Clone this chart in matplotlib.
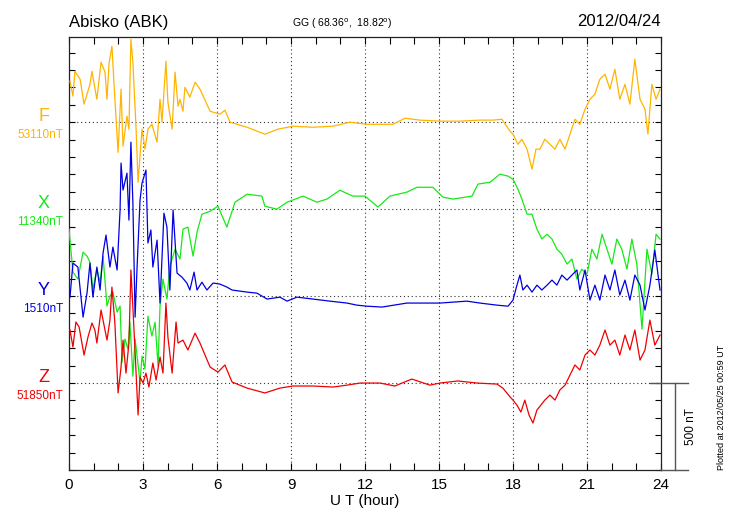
import matplotlib
matplotlib.use('Agg')
import matplotlib.pyplot as plt
from matplotlib.ticker import MultipleLocator, NullFormatter

plt.rcParams['font.family'] = ['Liberation Sans', 'DejaVu Sans']

station = 'Abisko (ABK)'
coords = 'GG ( 68.36$^{\\rm o}$,  18.82$^{\\rm o}$)'
date = '2012/04/24'
plotted = 'Plotted at 2012/05/25 00:59 UT'

# baseline values (nT) for each component
names = ['F', 'X', 'Y', 'Z']
base_labels = ['53110nT', '11340nT', '1510nT', '51850nT']
colors = ['#FFB400', '#18E818', '#0000E0', '#F00000']
offsets = [1500, 1000, 500, 0]   # vertical position of each trace on the panel

# F: hours and deviation from 53110 nT
f_hours = [0.04, 0.16, 0.24, 0.45, 0.61, 0.85, 0.93, 1.13, 1.30, 1.46, 1.54, 1.62, 1.74, 1.86,
           1.99, 2.11, 2.19, 2.35, 2.43, 2.51, 2.59, 2.72, 2.80, 2.96, 3.08, 3.20, 3.36, 3.57,
           3.69, 3.77, 3.93, 4.01, 4.18, 4.30, 4.42, 4.50, 4.62, 4.70, 4.90, 5.11, 5.31, 5.72,
           6.12, 6.32, 6.53, 7.22, 7.94, 8.47, 9.08, 9.89, 10.70, 11.39, 12.08, 13.13, 13.62,
           14.23, 15.04, 15.85, 16.66, 17.19, 17.55, 17.88, 18.00, 18.20, 18.36, 18.57, 18.77,
           18.93, 19.09, 19.29, 19.50, 19.70, 19.90, 20.11, 20.31, 20.51, 20.71, 20.92, 21.12,
           21.32, 21.52, 21.73, 21.93, 22.13, 22.33, 22.54, 22.74, 22.94, 23.15, 23.35, 23.47,
           23.63, 23.80, 23.96]
f_nt = [236, 150, 293, 247, 104, 218, 293, 132, 345, 288, 132, 334, 437, 132,
        -173, 190, -138, 35, -40, 477, 345, -40, -345, -40, -155, -40, -12, -115,
        132, 0, 351, 115, -40, 288, 92, 132, 63, 201, 144, 230, 190, 63,
        46, 69, 0, -29, -69, -40, -23, -29, -23, 0, -12, -12, 23,
        12, 6, 6, 12, 12, 17, -52, -69, -127, -98, -155, -270,
        -155, -155, -98, -127, -155, -98, -155, -69, 17, -12, 75, 132,
        161, 247, 276, 190, 305, 132, 218, 104, 362, 132, 75, -69,
        218, 132, 190]

# X: deviation from 11340 nT
x_hours = [0.00, 0.16, 0.36, 0.57, 0.73, 0.85, 0.97, 1.13, 1.26, 1.38, 1.54, 1.66, 1.78, 1.95,
           2.07, 2.15, 2.27, 2.39, 2.47, 2.59, 2.68, 2.76, 2.88, 2.96, 3.08, 3.20, 3.36, 3.49,
           3.61, 3.69, 3.81, 3.97, 4.09, 4.30, 4.50, 4.62, 4.82, 5.03, 5.19, 5.39, 5.72, 6.04,
           6.40, 6.73, 7.22, 7.82, 7.94, 8.43, 8.84, 9.49, 10.05, 10.46, 10.98, 11.51, 12.00,
           12.53, 13.01, 13.70, 14.11, 14.75, 15.16, 15.57, 16.34, 16.58, 17.07, 17.47, 17.80,
           18.00, 18.20, 18.36, 18.57, 18.77, 18.97, 19.17, 19.38, 19.58, 19.78, 19.98, 20.19,
           20.39, 20.59, 20.79, 21.00, 21.20, 21.40, 21.61, 21.81, 22.01, 22.21, 22.41, 22.62,
           22.82, 23.02, 23.23, 23.43, 23.63, 23.80, 23.96]
x_nt = [-115, -362, -402, -247, -270, -305, -460, -345, -420, -270, -557, -500, -477, -592,
        -557, -880, -747, -805, -650, -960, -747, -845, -995, -845, -920, -615, -730, -650,
        -903, -557, -402, -517, -328, -230, -287, -115, -103, -270, -132, -29, -12, 17,
        -103, 40, 86, 75, 17, 0, 40, 75, 40, 58, 109, 75, 75,
        12, 75, 98, 126, 126, 69, 58, 75, 144, 155, 201, 190,
        172, 115, 58, -29, -29, -115, -172, -144, -172, -230, -259, -316,
        -287, -402, -345, -374, -230, -287, -144, -230, -316, -172, -230, -345,
        -172, -316, -690, -230, -374, -144, -172]

# Y: deviation from 1510 nT
y_hours = [0.04, 0.16, 0.36, 0.57, 0.73, 0.85, 0.97, 1.13, 1.26, 1.38, 1.50, 1.66, 1.78, 1.95,
           2.07, 2.11, 2.19, 2.35, 2.43, 2.51, 2.59, 2.68, 2.76, 2.88, 2.96, 3.12, 3.20, 3.32,
           3.40, 3.57, 3.69, 3.85, 3.97, 4.09, 4.22, 4.38, 4.58, 4.78, 4.90, 5.07, 5.19, 5.39,
           5.59, 5.84, 6.12, 6.40, 6.61, 7.22, 7.62, 8.03, 8.55, 8.84, 9.24, 9.89, 10.58,
           11.27, 11.67, 12.08, 12.69, 13.70, 15.04, 16.13, 16.66, 17.35, 17.80, 18.00, 18.16,
           18.28, 18.40, 18.57, 18.77, 18.97, 19.17, 19.38, 19.58, 19.78, 19.98, 20.19, 20.39,
           20.59, 20.71, 20.92, 21.12, 21.32, 21.52, 21.73, 21.93, 22.13, 22.33, 22.54, 22.74,
           22.94, 23.15, 23.35, 23.55, 23.75, 23.96]
y_nt = [-6, 190, 167, -121, 17, 190, -6, 167, 35, 247, 351, 167, 282, 150,
        495, 765, 610, 707, 437, 885, 535, -121, 167, 552, 650, 725, 305, 380,
        167, 322, -40, 477, 397, 35, 495, 132, 109, 75, 35, 138, 35, 80,
        35, 75, 69, 52, 35, 23, 17, -17, -6, -29, -6, -17, -29,
        -40, -52, -58, -63, -40, -40, -29, -40, -52, -58, -23, 63,
        121, 35, 63, 23, 63, 35, 63, 92, 63, 121, 92, 121,
        150, 35, 150, -23, 63, -23, 121, 35, 150, 6, 92, -23,
        121, 63, -80, 63, 265, 35]

# Z: deviation from 51850 nT
z_hours = [0.04, 0.16, 0.28, 0.41, 0.61, 0.77, 0.93, 1.05, 1.13, 1.30, 1.38, 1.54, 1.66, 1.74,
           1.86, 1.99, 2.11, 2.19, 2.31, 2.43, 2.51, 2.59, 2.72, 2.80, 2.88, 3.00, 3.12, 3.24,
           3.40, 3.53, 3.69, 3.81, 3.93, 4.01, 4.18, 4.34, 4.42, 4.62, 4.82, 5.11, 5.31, 5.72,
           6.04, 6.32, 6.61, 7.22, 7.94, 8.55, 9.08, 9.89, 10.70, 11.27, 11.80, 12.61, 13.21,
           13.90, 14.63, 15.04, 15.77, 16.54, 17.35, 17.59, 17.88, 18.00, 18.16, 18.32, 18.48,
           18.65, 18.81, 18.97, 19.13, 19.29, 19.50, 19.70, 19.90, 20.11, 20.31, 20.51, 20.71,
           20.92, 21.12, 21.32, 21.52, 21.73, 21.93, 22.13, 22.33, 22.54, 22.74, 22.94, 23.15,
           23.35, 23.55, 23.75, 23.96]
z_nt = [305, 207, 351, 322, 161, 265, 345, 305, 230, 420, 362, 247, 362, 552,
        345, -57, 92, 247, 57, 230, 650, 437, 57, -184, 35, 0, 57, -23,
        115, 17, 150, 57, 460, 265, 57, 351, 230, 247, 190, 287, 230, 92,
        63, 104, 6, -29, -57, -29, -17, -17, -23, -12, 0, 0, -17,
        23, -12, 0, 12, 0, -6, -29, -80, -98, -127, -167, -98,
        -184, -230, -155, -127, -98, -69, -98, -40, -12, 46, 104, 75,
        161, 190, 161, 218, 305, 218, 247, 161, 276, 190, 305, 132,
        190, 362, 218, 276]

series = [(f_hours, f_nt), (x_hours, x_nt), (y_hours, y_nt), (z_hours, z_nt)]

fig = plt.figure(figsize=(7.3, 5.2), dpi=100)
ax = fig.add_axes([69 / 730, 50 / 520, 592 / 730, 433 / 520])

for (hrs, vals), off, col in zip(series, offsets, colors):
    ax.plot(hrs, [v + off for v in vals], color=col, lw=0.9, zorder=3)

ax.set_xlim(0, 24)
ax.set_ylim(-500, 1990)

# dotted guide lines
for h in range(3, 24, 3):
    ax.axvline(h, color='#333333', lw=0.8, ls=(0, (1, 2.5)), zorder=1)
for off in offsets:
    ax.axhline(off, color='#333333', lw=0.8, ls=(0, (1, 2.5)), zorder=1)

ax.xaxis.set_major_locator(MultipleLocator(3))
ax.xaxis.set_minor_locator(MultipleLocator(1))
ax.yaxis.set_major_locator(MultipleLocator(100))
ax.yaxis.set_major_formatter(NullFormatter())
ax.tick_params(axis='x', which='both', direction='in', length=5, top=True,
               width=0.8, labelsize=11, pad=6)
ax.tick_params(axis='y', which='both', direction='in', length=4, right=True,
               width=0.8)
for s in ax.spines.values():
    s.set_linewidth(0.9)
    s.set_color('#222222')
ax.set_xlabel('U T (hour)', fontsize=11, labelpad=1)

# component labels on the left
for name, lab, col, off in zip(names, base_labels, colors, offsets):
    ax.annotate(name, xy=(0, off), xycoords=('axes fraction', 'data'),
                xytext=(-25, 6), textcoords='offset pixels', ha='center', va='center',
                color=col, fontsize=13)
    ax.annotate(lab, xy=(0, off), xycoords=('axes fraction', 'data'),
                xytext=(-6, -13), textcoords='offset pixels', ha='right', va='center',
                color=col, fontsize=8.5)

# 500 nT scale bar on the right
bar = dict(color='#555555', lw=1.0, clip_on=False, zorder=4)
ax.plot([23.55, 25.09], [0, 0], **bar)
ax.plot([24.0, 25.09], [-500, -500], **bar)
ax.plot([24.56, 24.56], [0, -500], **bar)
ax.text(25.2, -250, '500 nT', rotation=90, ha='center', va='center', fontsize=8.5)

fig.text(69 / 730, 1 - 22 / 520, station, ha='left', va='center', fontsize=12)
fig.text(292 / 730, 1 - 24 / 520, coords, ha='left', va='center', fontsize=7.5)
fig.text(661 / 730, 1 - 22 / 520, date, ha='right', va='center', fontsize=12)
fig.text(722 / 730, 1 - 470 / 520, plotted, rotation=90, ha='center', va='bottom',
         fontsize=6.5)

fig.savefig('out.png', dpi=100)
